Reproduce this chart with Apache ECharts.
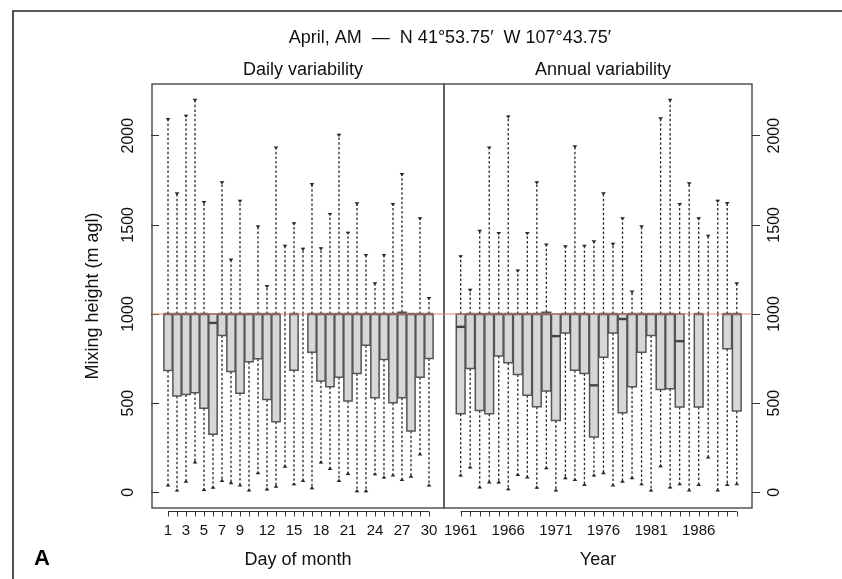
<!DOCTYPE html>
<html>
<head>
<meta charset="utf-8">
<script src="https://cdn.jsdelivr.net/npm/echarts@6/dist/echarts.min.js"></script>
<style>
html,body{margin:0;padding:0;background:#ffffff;}
#chart{width:842px;height:579px;}
</style>
</head>
<body>
<div id="chart"></div>
<script>
// ---- categories ----
const days = [1,2,3,4,5,6,7,8,9,10,11,12,13,14,15,16,17,18,19,20,21,22,23,24,25,26,27,28,29,30];
const years = [1961,1962,1963,1964,1965,1966,1967,1968,1969,1970,1971,1972,1973,1974,1975,1976,1977,1978,1979,1980,1981,1982,1983,1984,1985,1986,1987,1988,1989,1990];

// ---- tick labels ----
const dayTickLabels = [1,3,5,7,9,12,15,18,21,24,27,30];
const yearTickLabels = [1961,1966,1971,1976,1981,1986];
const heightTicks = [0,500,1000,1500,2000];
const referenceHeight = 1000;

// ---- daily variability (m agl) ----
const dailyMin    = [32,4,54,162,7,20,58,45,32,4,101,10,26,138,39,58,17,162,125,58,97,0,0,95,77,88,63,82,207,32];
const dailyQ1     = [683,540,549,558,471,325,880,678,555,732,749,521,396,1000,685,1000,786,624,592,646,512,667,825,530,745,502,530,344,646,751];
const dailyMedian = [1000,1000,1000,1000,1000,950,1000,1000,1000,1000,1000,1000,1000,1000,1000,1000,1000,1000,1000,1000,1000,1000,1000,1000,1000,1000,1000,1000,1000,1000];
const dailyQ3     = [1000,1000,1000,1000,1000,1000,1000,1000,1000,1000,1000,1000,1000,1000,1000,1000,1000,1000,1000,1000,1000,1000,1000,1000,1000,1000,1010,1000,1000,1000];
const dailyMax    = [2099,1683,2118,2207,1634,1000,1744,1311,1641,1000,1498,1162,1940,1389,1514,1371,1735,1374,1567,2011,1462,1627,1337,1178,1337,1623,1791,1000,1542,1096];

// ---- annual variability (m agl) ----
const annualMin    = [88,134,22,49,49,11,92,77,20,129,4,73,63,35,88,101,32,54,73,39,4,141,22,39,4,35,189,4,35,39];
const annualQ1     = [441,695,459,441,764,726,661,545,480,568,403,894,685,667,310,758,894,446,592,786,880,577,581,478,1000,478,1000,1000,805,456];
const annualMedian = [928,1000,1000,1000,1000,1000,1000,1000,1000,1000,876,1000,1000,1000,600,1000,1000,972,1000,1000,1000,1000,1000,848,1000,1000,1000,1000,1000,1000];
const annualQ3     = [1000,1000,1000,1000,1000,1000,1000,1000,1000,1010,1000,1000,1000,1000,1000,1000,1000,1000,1000,1000,1000,1000,1000,1000,1000,1000,1000,1000,1000,1000];
const annualMax    = [1330,1141,1473,1940,1460,2114,1249,1460,1744,1395,1000,1386,1946,1389,1414,1683,1399,1542,1132,1498,1000,2103,2207,1623,1739,1542,1445,1641,1628,1178];

function rows(cats, mn, q1, med, q3, mx) {
  return cats.map((c, i) => [c, mn[i], q1[i], med[i], q3[i], mx[i]]);
}

const FONT = '"Liberation Sans", Arial, Helvetica, sans-serif';
const TXT = '#111111';
const plain = v => String(v);

function renderBox(params, api) {
  const x = api.value(0);
  const mn = api.value(1), q1 = api.value(2), med = api.value(3), q3 = api.value(4), mx = api.value(5);
  const pMin = api.coord([x, mn]);
  const pQ1 = api.coord([x, q1]);
  const pMed = api.coord([x, med]);
  const pQ3 = api.coord([x, q3]);
  const pMax = api.coord([x, mx]);
  const cx = pQ1[0];
  const w = api.size([0.92, 0])[0];
  const dash = { stroke: '#2a2a2a', lineWidth: 1.3, lineDash: [2.5, 2.2], fill: null };
  const children = [];
  if (q1 > mn) {
    children.push({ type: 'line', shape: { x1: cx, y1: pQ1[1], x2: cx, y2: pMin[1] }, style: dash });
    children.push({ type: 'polygon', shape: { points: [[cx - 2.4, pMin[1]], [cx + 2.4, pMin[1]], [cx, pMin[1] - 3.2]] }, style: { fill: '#2a2a2a' } });
  }
  if (mx > q3) {
    children.push({ type: 'line', shape: { x1: cx, y1: pQ3[1], x2: cx, y2: pMax[1] }, style: dash });
    children.push({ type: 'polygon', shape: { points: [[cx - 2.4, pMax[1]], [cx + 2.4, pMax[1]], [cx, pMax[1] + 3.2]] }, style: { fill: '#2a2a2a' } });
  }
  if (q3 > q1) {
    children.push({ type: 'rect', shape: { x: cx - w / 2, y: pQ3[1], width: w, height: pQ1[1] - pQ3[1] },
      style: { fill: '#d7d7d7', stroke: '#555555', lineWidth: 1.5 } });
    children.push({ type: 'line', shape: { x1: cx - w / 2, y1: pMed[1], x2: cx + w / 2, y2: pMed[1] },
      style: { stroke: '#444444', lineWidth: 2.4 } });
  }
  return { type: 'group', children: children };
}

function renderRef(params, api) {
  const y = api.coord([api.value(0), api.value(1)])[1];
  const cs = params.coordSys;
  return { type: 'line', shape: { x1: cs.x, y1: y, x2: cs.x + cs.width, y2: y },
    style: { stroke: '#e4866a', lineWidth: 1.2 } };
}

// R-style axis line running from first to last tick, just below the panel
function renderBase(params, api) {
  const a = api.coord([api.value(0), api.value(2)]);
  const b = api.coord([api.value(1), api.value(2)]);
  const cs = params.coordSys;
  const y = Math.round(cs.y + cs.height + 3) + 0.5;
  return { type: 'line', shape: { x1: a[0], y1: y, x2: b[0], y2: y },
    style: { stroke: '#333333', lineWidth: 1 } };
}

// R-style tick marks hanging from that axis line
function renderTick(params, api) {
  const p = api.coord([api.value(0), api.value(1)]);
  const cs = params.coordSys;
  const y = Math.round(cs.y + cs.height + 3) + 0.5;
  const x = Math.round(p[0]) + 0.5;
  return { type: 'line', shape: { x1: x, y1: y, x2: x, y2: y + 5 },
    style: { stroke: '#333333', lineWidth: 1 } };
}

function xAxisDef(idx, min, max, labels, name) {
  return {
    type: 'value', gridIndex: idx, min: min, max: max, offset: 3,
    axisLine: { show: false },
    axisTick: { show: false },
    axisLabel: { customValues: labels, formatter: plain, margin: 12, fontSize: 15, color: TXT, fontFamily: FONT },
    splitLine: { show: false },
    name: name, nameLocation: 'middle', nameGap: 40,
    nameTextStyle: { fontSize: 18, color: TXT, fontFamily: FONT }
  };
}

function yAxisDef(idx, pos, name) {
  const a = {
    type: 'value', gridIndex: idx, position: pos, min: -88, max: 2290,
    axisLine: { show: true, lineStyle: { color: '#555555', opacity: 0 } },
    axisTick: { show: true, length: 8, customValues: heightTicks, lineStyle: { color: '#333333', width: 1, opacity: 1 } },
    axisLabel: { customValues: heightTicks, formatter: plain, rotate: 90, margin: 15, fontSize: 16, color: TXT, fontFamily: FONT },
    splitLine: { show: false }
  };
  if (name) {
    a.name = name; a.nameLocation = 'middle'; a.nameGap = 50;
    a.nameTextStyle = { fontSize: 18, color: TXT, fontFamily: FONT };
  }
  return a;
}

const chart = echarts.init(document.getElementById('chart'), null, { renderer: 'canvas' });
chart.setOption({
  animation: false,
  backgroundColor: '#ffffff',
  textStyle: { fontFamily: FONT },
  graphic: [{
    type: 'rect', shape: { x: 13, y: 11, width: 900, height: 700 },
    style: { fill: null, stroke: '#222222', lineWidth: 1.6 }, silent: true, z: 100
  }],
  title: [
    { text: 'April, AM  \u2014  N 41\u00b053.75\u2032  W 107\u00b043.75\u2032', left: 445, top: 24, textAlign: 'center',
      textStyle: { fontSize: 18, fontWeight: 'normal', color: TXT, fontFamily: FONT } },
    { text: 'Daily variability', left: 298, top: 56, textAlign: 'center',
      textStyle: { fontSize: 18, fontWeight: 'normal', color: TXT, fontFamily: FONT } },
    { text: 'Annual variability', left: 598, top: 56, textAlign: 'center',
      textStyle: { fontSize: 18, fontWeight: 'normal', color: TXT, fontFamily: FONT } },
    { text: 'A', left: 29, top: 543,
      textStyle: { fontSize: 22, fontWeight: 'bold', color: '#000000', fontFamily: FONT } }
  ],
  grid: [
    { left: 152, top: 84, width: 292, height: 424, show: true, borderColor: '#555555', borderWidth: 1.5, backgroundColor: 'transparent' },
    { left: 444, top: 84, width: 308, height: 424, show: true, borderColor: '#555555', borderWidth: 1.5, backgroundColor: 'transparent' }
  ],
  xAxis: [
    xAxisDef(0, -0.78, 31.67, dayTickLabels, 'Day of month'),
    xAxisDef(1, 1959.25, 1991.6, yearTickLabels, 'Year')
  ],
  yAxis: [
    yAxisDef(0, 'left', 'Mixing height (m agl)'),
    yAxisDef(1, 'right', null)
  ],
  series: [
    { type: 'custom', name: 'Daily', xAxisIndex: 0, yAxisIndex: 0, clip: false, z: 2,
      data: rows(days, dailyMin, dailyQ1, dailyMedian, dailyQ3, dailyMax),
      encode: { x: 0, y: [1, 2, 3, 4, 5] }, renderItem: renderBox },
    { type: 'custom', name: 'Annual', xAxisIndex: 1, yAxisIndex: 1, clip: false, z: 2,
      data: rows(years, annualMin, annualQ1, annualMedian, annualQ3, annualMax),
      encode: { x: 0, y: [1, 2, 3, 4, 5] }, renderItem: renderBox },
    { type: 'custom', xAxisIndex: 0, yAxisIndex: 0, z: 5, clip: false, silent: true,
      data: [[days[14], referenceHeight]], encode: { x: 0, y: 1 }, renderItem: renderRef },
    { type: 'custom', xAxisIndex: 1, yAxisIndex: 1, z: 5, clip: false, silent: true,
      data: [[years[14], referenceHeight]], encode: { x: 0, y: 1 }, renderItem: renderRef },
    { type: 'custom', xAxisIndex: 0, yAxisIndex: 0, z: 5, clip: false, silent: true,
      data: [[days[0], days[days.length - 1], 0]], encode: { x: [0, 1], y: 2 }, renderItem: renderBase },
    { type: 'custom', xAxisIndex: 1, yAxisIndex: 1, z: 5, clip: false, silent: true,
      data: [[years[0], years[years.length - 1], 0]], encode: { x: [0, 1], y: 2 }, renderItem: renderBase },
    { type: 'custom', xAxisIndex: 0, yAxisIndex: 0, z: 5, clip: false, silent: true,
      data: days.map(d => [d, 0]), encode: { x: 0, y: 1 }, renderItem: renderTick },
    { type: 'custom', xAxisIndex: 1, yAxisIndex: 1, z: 5, clip: false, silent: true,
      data: years.map(d => [d, 0]), encode: { x: 0, y: 1 }, renderItem: renderTick }
  ]
});
</script>
</body>
</html>
